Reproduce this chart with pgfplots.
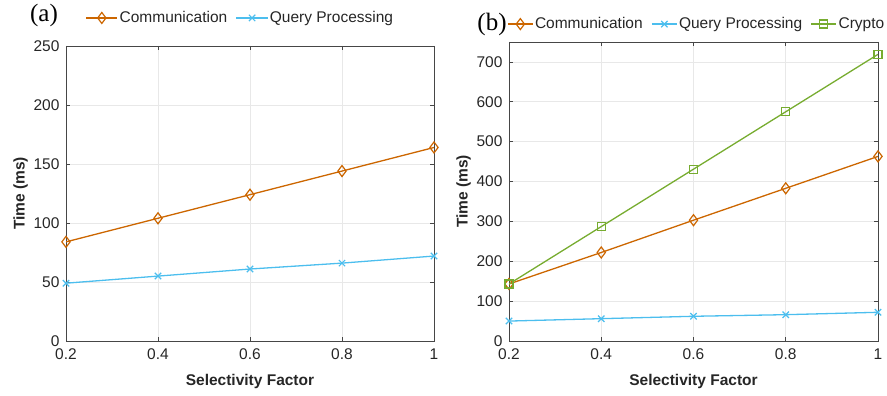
\documentclass[border=0pt]{standalone}
\usepackage{fontspec}
\setmainfont{Liberation Sans}
\newfontfamily\serifpanel{Liberation Serif}
\usepackage{pgfplots}
\pgfplotsset{compat=1.18}
\definecolor{corange}{rgb}{0.80,0.40,0.0}
\definecolor{cblue}{rgb}{0.30,0.745,0.933}
\definecolor{cgreen}{rgb}{0.466,0.674,0.188}
\pgfplotsset{
  mystyle/.style={
    scale only axis,
    width=368pt,
    xmin=0.2, xmax=1,
    xtick={0.2,0.4,0.6,0.8,1},
    ymin=0,
    grid=major,
    grid style={gray!18, line width=0.6pt},
    axis line style={gray!55!black, line width=0.8pt},
    tick style={gray!55!black, line width=0.8pt},
    major tick length=4pt,
    tick align=inside,
    /pgf/number format/assume math mode=true,
    ticklabel style={font=\fontsize{15.5}{17}\selectfont, text=black!85},
    xticklabel style={yshift=-4pt},
    yticklabel style={xshift=-3pt},
    label style={font=\bfseries\fontsize{15.5}{17}\selectfont, text=black!85},
    xlabel={Selectivity Factor},
    ylabel={Time (ms)},
    xlabel style={yshift=-8pt},
    ylabel style={yshift=-1pt},
    legend style={draw=none, fill=none, font=\fontsize{15.5}{17}\selectfont, text=black!85,
      legend columns=-1, inner sep=0pt,
      nodes={inner sep=1.5pt},
      /tikz/every even column/.append style={column sep=7pt}},
    legend cell align=left,
    every axis plot/.append style={line width=1.3pt},
  },
  comm/.style={color=corange, mark=diamond, mark size=5.5pt, mark options={solid, fill=white, line width=1.2pt}},
  qp/.style={color=cblue, mark=x, mark size=4.5pt, mark options={solid, line width=1.2pt}},
  cry/.style={color=cgreen, mark=square, mark size=4pt, mark options={solid, fill=white, line width=1.2pt}},
}
\begin{document}
\begin{tikzpicture}
\useasboundingbox (0,0) rectangle (887pt,396pt);
\node[font=\serifpanel\fontsize{25}{27}\selectfont, inner sep=0pt] at (44pt,381pt) {(a)};
\node[font=\serifpanel\fontsize{25}{27}\selectfont, inner sep=0pt] at (492pt,372pt) {(b)};
\begin{axis}[mystyle, at={(66pt,55pt)}, anchor=south west, height=295pt,
  ymax=250, ytick={0,50,100,150,200,250},
  legend image code/.code={\draw[mark repeat=2,mark phase=2,#1] plot coordinates {(0cm,0cm) (0.55cm,0cm) (1.1cm,0cm)};},
  legend style={at={(0.473,1.095)}, anchor=center}]
\addplot[comm] coordinates {(0.2,84) (0.4,104) (0.6,124) (0.8,144) (1,164)};
\addlegendentry{Communication}
\addplot[qp] coordinates {(0.2,49) (0.4,55) (0.6,61) (0.8,66) (1,72)};
\addlegendentry{Query Processing}
\end{axis}
\begin{axis}[mystyle, at={(509pt,55pt)}, anchor=south west, height=299pt, width=369pt,
  ymax=750, ytick={0,100,200,300,400,500,600,700},
  legend image code/.code={\draw[mark repeat=2,mark phase=2,#1] plot coordinates {(0cm,0cm) (0.44cm,0cm) (0.88cm,0cm)};},
  legend style={at={(0.508,1.06)}, anchor=center}]
\addplot[comm] coordinates {(0.2,143) (0.4,222) (0.6,303) (0.8,383) (1,463)};
\addlegendentry{Communication}
\addplot[qp] coordinates {(0.2,50) (0.4,56) (0.6,62) (0.8,66) (1,72)};
\addlegendentry{Query Processing}
\addplot[cry] coordinates {(0.2,143) (0.4,287) (0.6,431) (0.8,575) (1,719)};
\addlegendentry{Crypto}
\end{axis}
\end{tikzpicture}
\end{document}
